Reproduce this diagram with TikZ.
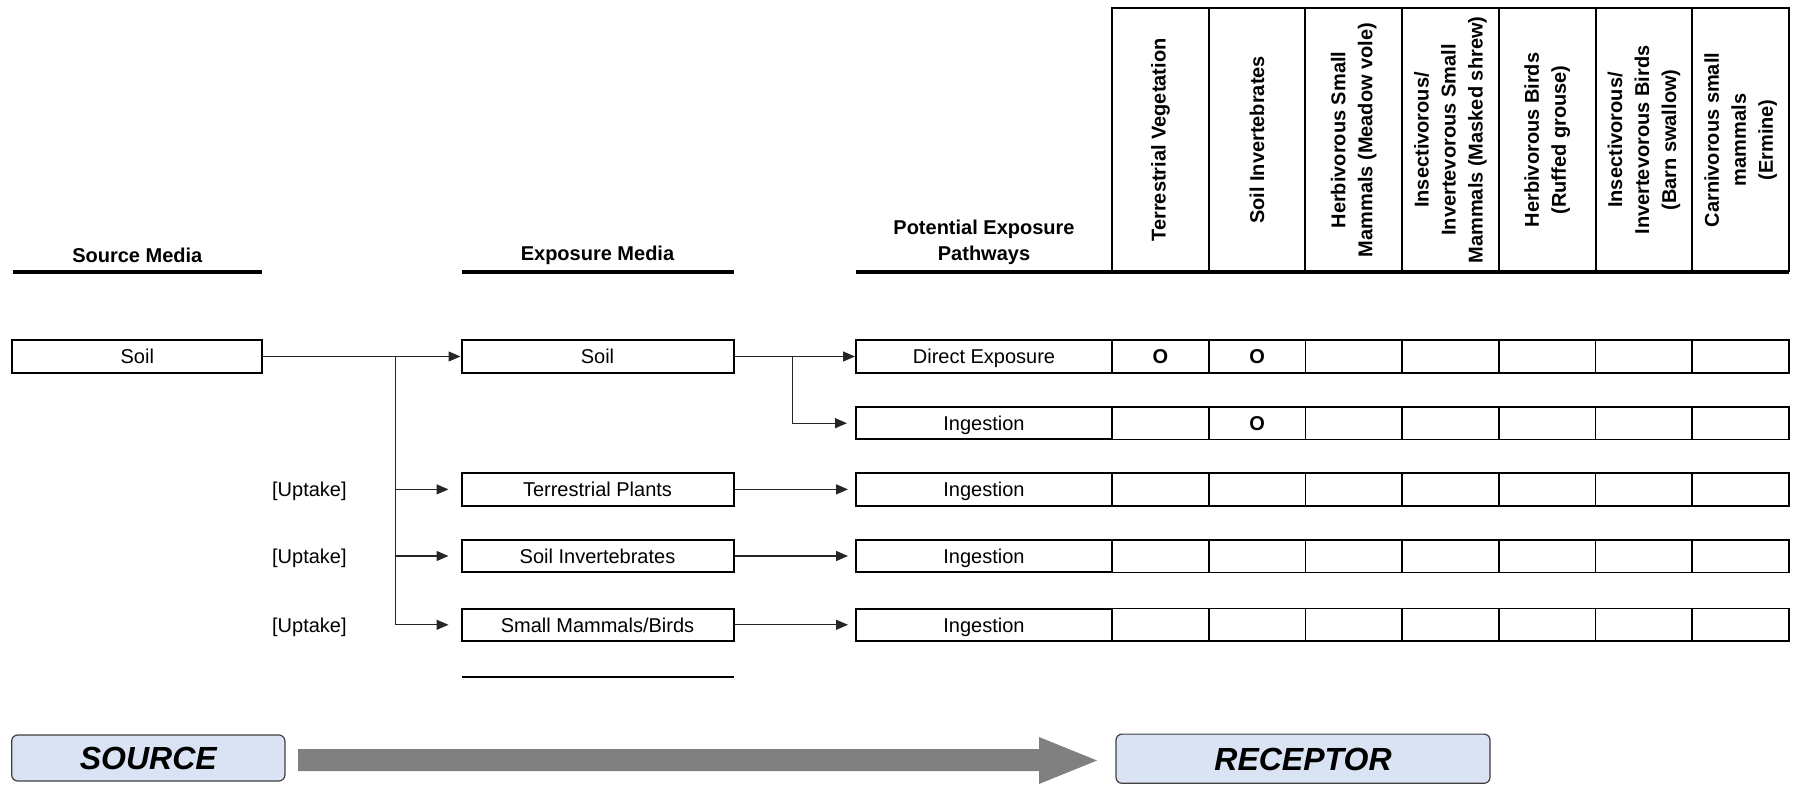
\documentclass[tikz,border=0pt]{standalone}
\usepackage{fontspec}
\setmainfont{Liberation Sans}
\usetikzlibrary{arrows.meta}
\definecolor{boxblue}{HTML}{DAE3F3}
\definecolor{arrowgray}{HTML}{808080}
\begin{document}
\begin{tikzpicture}[x=0.5pt,y=-0.5pt,
 box/.style={draw, line width=1pt, minimum height=16.3pt, inner sep=0pt, text height=7.2pt, text depth=0pt, font=\fontsize{10}{12}\selectfont},
 cell/.style={draw, line width=0.8pt, minimum height=16.3pt, minimum width=48.355pt, inner sep=0pt, text height=7.2pt, text depth=0pt, font=\bfseries\fontsize{10}{12}\selectfont},
 conn/.style={line width=0.6pt, draw=black!85},
 arr/.style={conn, -{Triangle[length=6pt,width=5pt]}},
 hdr/.style={font=\bfseries\fontsize{10}{13}\selectfont, align=center},
 lbl/.style={text height=7.2pt, text depth=0pt, font=\fontsize{10}{12}\selectfont},
 rulel/.style={line width=1.8pt},
 vhdr/.style={font=\bfseries\fontsize{10}{13.5}\selectfont, align=center, rotate=90},
 big/.style={draw=black!75, line width=0.6pt, rounded corners=3pt, fill=boxblue, inner sep=0pt, text height=11.5pt, text depth=0pt, font=\bfseries\itshape\fontsize{16}{19}\selectfont}
]
\useasboundingbox (0,0) rectangle (1797,785);

% column headers
\node[hdr] (hsrc) at (137.3,255) {Source Media};
\node[hdr] (hexp) at (597.5,255) {Exposure Media};
\node[hdr] (hpath) at (984,242) {Potential Exposure\\Pathways};
\draw[rulel] (13,272) -- (262,272);
\draw[rulel] (461.5,272) -- (733.5,272);
\draw[rulel] (856,272) -- (1789,272);

% receptor header table
\draw[line width=1pt] (1112,272) -- (1112,8) -- (1789,8) -- (1789,272);
\foreach \i in {1,...,6} \draw[line width=1pt] ({1112+\i*96.71},8) -- ({1112+\i*96.71},272);
\node[vhdr] (h1) at ({1112+0.5*96.71},140) {Terrestrial Vegetation};
\node[vhdr] (h2) at ({1112+1.5*96.71},140) {Soil Invertebrates};
\node[vhdr] (h3) at ({1112+2.5*96.71},140) {Herbivorous Small\\Mammals (Meadow vole)};
\node[vhdr] (h4) at ({1112+3.5*96.71},140) {Insectivorous/\\Invertevorous Small\\Mammals (Masked shrew)};
\node[vhdr] (h5) at ({1112+4.5*96.71},140) {Herbivorous Birds\\(Ruffed grouse)};
\node[vhdr] (h6) at ({1112+5.5*96.71},140) {Insectivorous/\\Invertevorous Birds\\(Barn swallow)};
\node[vhdr] (h7) at ({1112+6.5*96.71},140) {Carnivorous small\\mammals\\(Ermine)};

% source and exposure media
\node[box, minimum width=125pt] (src) at (137.3,356.5) {Soil};
\node[box, minimum width=136pt] (exsoil) at (597.5,356.5) {Soil};
\node[box, minimum width=136pt] (tp) at (597.5,489.4) {Terrestrial Plants};
\node[box, minimum width=136pt] (si) at (597.5,556) {Soil Invertebrates};
\node[box, minimum width=136pt] (sm) at (597.5,624.8) {Small Mammals/Birds};
\draw[line width=1pt] (461.5,677) -- (733.5,677);

\node[lbl] (u3) at (309.4,489.4) {[Uptake]};
\node[lbl] (u4) at (309.4,556) {[Uptake]};
\node[lbl] (u5) at (309.4,624.8) {[Uptake]};

% pathways
\node[box, minimum width=128pt] (p1) at (984,356.5) {Direct Exposure};
\node[box, minimum width=128pt] (p2) at (984,423.2) {Ingestion};
\node[box, minimum width=128pt] (p3) at (984,489.4) {Ingestion};
\node[box, minimum width=128pt] (p4) at (984,556) {Ingestion};
\node[box, minimum width=128pt] (p5) at (984,624.8) {Ingestion};

% cells
\foreach \c/\t in {1/O,2/O,3/,4/,5/,6/,7/}
  \node[cell] (c1\c) at ({1112+(\c-0.5)*96.71},356.5) {\t};
\foreach \c/\t in {1/,2/O,3/,4/,5/,6/,7/}
  \node[cell] (c2\c) at ({1112+(\c-0.5)*96.71},423.2) {\t};
\foreach \r/\y in {3/489.4,4/556,5/624.8}
  \foreach \c in {1,...,7}
    \node[cell] (c\r\c) at ({1112+(\c-0.5)*96.71},\y) {};

% connectors
\draw[arr] (src) -- (exsoil);
\coordinate (b1) at ([xshift=66pt]src.east);
\draw[arr] (b1) |- ([xshift=-6pt]sm.west);
\draw[arr] (b1 |- tp.west) -- ([xshift=-6pt]tp.west);
\draw[arr] (b1 |- si.west) -- ([xshift=-6pt]si.west);

\draw[arr] (exsoil) -- (p1);
\coordinate (b2) at ([xshift=29.1pt]exsoil.east);
\draw[arr] (b2) |- ([xshift=-4pt]p2.west);
\draw[arr] (tp) -- ([xshift=-3.5pt]p3.west);
\draw[arr] (si) -- ([xshift=-3.5pt]p4.west);
\draw[arr] (sm) -- ([xshift=-3.5pt]p5.west);

% bottom banner
\node[big, minimum width=136.6pt, minimum height=23pt] (source) at (148.3,758) {SOURCE};
\node[big, minimum width=187pt, minimum height=24.6pt] (receptor) at (1303,758.7) {RECEPTOR};
\fill[arrowgray] (298,749) -- (1039,749) -- (1039,737) -- (1097,760.5) -- (1039,784) -- (1039,771) -- (298,771) -- cycle;
\end{tikzpicture}
\end{document}
